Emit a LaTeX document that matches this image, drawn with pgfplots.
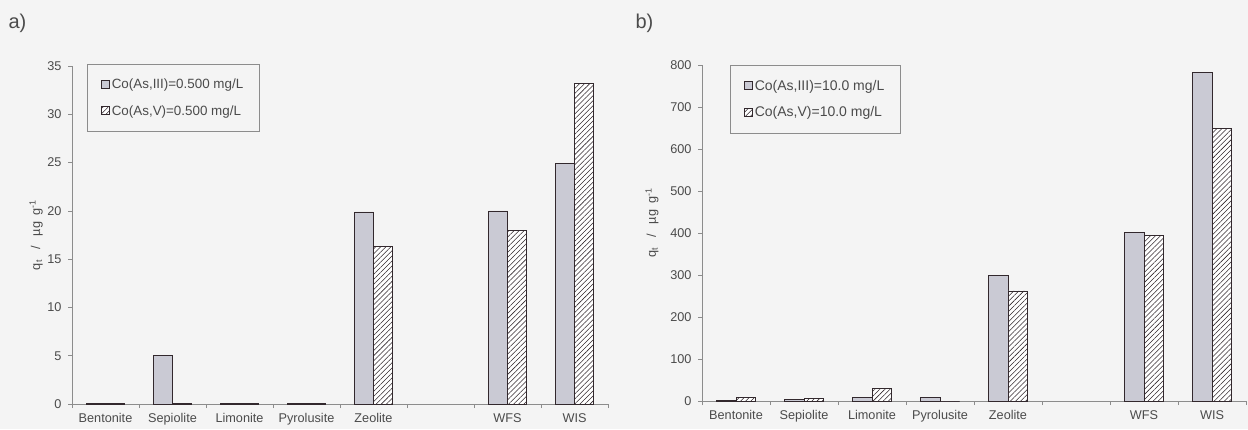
\documentclass[border=0pt]{standalone}
\usepackage{pgfplots}
\pgfplotsset{compat=1.18}
\usetikzlibrary{patterns.meta}
\usepackage{fontspec}
\setmainfont{Liberation Sans}
\definecolor{bg}{RGB}{244,244,244}
\definecolor{barg}{RGB}{202,202,212}
\definecolor{axg}{RGB}{140,140,140}
\definecolor{txt}{RGB}{75,75,75}
\definecolor{bard}{RGB}{50,40,45}

\pgfplotsset{
 mystyle/.style={
  scale only axis,
  ybar=0pt,
  xmin=0.5, xmax=8.5,
  xtick={0.5,1.5,...,8.5},
  x tick label as interval,
  xticklabels={Bentonite,Sepiolite,Limonite,Pyrolusite,Zeolite,{},WFS,WIS},
  axis x line*=bottom, axis y line*=left,
  axis line style={axg, -},
  tick align=outside,
  tick style={axg, line width=0.6pt},
  major tick length=4pt,
  ymin=0,
  ticklabel style={font=\fontsize{12.7}{13}\selectfont, text=txt},
  xticklabel style={yshift=-2pt},
  yticklabel style={xshift=-3pt},
  /pgf/number format/assume math mode=true,
  ylabel={q\textsubscript{t}\hspace{0.8em}/\hspace{0.8em}µg\hspace{0.5em}g\textsuperscript{-1}},
  label style={font=\fontsize{12.7}{13}\selectfont, text=txt},
  legend style={draw=axg, fill=none, text=txt,
    anchor=north west, inner xsep=14pt, inner ysep=13pt, row sep=11pt},
  legend cell align=left,
  legend image code/.code={\draw[##1, bar width=0pt] (0pt,-3.5pt) rectangle (8pt,4.5pt);},
 },
 s3/.style={draw=bard, line width=0.6pt, fill=barg},
 s5/.style={draw=bard, line width=0.6pt, fill=white,
   postaction={pattern={Lines[angle=45,distance=3.6pt,line width=0.55pt]}, pattern color=bard}},
}

\begin{document}
\begin{tikzpicture}
\fill[bg] (0,0) rectangle (1248pt,429pt);
\node[anchor=west, font=\fontsize{20}{22}\selectfont, text=txt] at (5pt,406pt) {a)};
\node[anchor=west, font=\fontsize{20}{22}\selectfont, text=txt] at (632pt,406pt) {b)};

\begin{axis}[mystyle,
  at={(72pt,25pt)}, anchor=south west,
  width=536pt, height=338pt,
  bar width=19pt,
  ymax=35, ytick={0,5,...,35},
  ylabel style={at={(axis description cs:-0.067,0.5)}, anchor=center},
  legend style={at={(axis description cs:0,1)}, xshift=15pt, yshift=2pt,
    font=\fontsize{13.4}{14}\selectfont},
]
\addplot[s3] coordinates {(1,0.1) (2,5.0) (3,0.1) (4,0.1) (5,19.9) (7,20.0) (8,24.9)};
\addplot[s5] coordinates {(1,0.1) (2,0.1) (3,0.1) (4,0.1) (5,16.3) (7,18.0) (8,33.2)};
\legend{{Co(As,III)=0.500 mg/L}, {Co(As,V)=0.500 mg/L}}
\end{axis}

\begin{axis}[mystyle,
  at={(702pt,28pt)}, anchor=south west,
  width=544pt, height=336pt,
  bar width=19.5pt,
  ymax=800, ytick={0,100,...,800},
  ylabel style={at={(axis description cs:-0.092,0.53)}, anchor=center},
  legend style={at={(axis description cs:0,1)}, xshift=28pt, yshift=0pt,
    font=\fontsize{14}{15}\selectfont},
]
\addplot[s3] coordinates {(1,2) (2,3) (3,8) (4,8) (5,300) (7,402) (8,783)};
\addplot[s5] coordinates {(1,8) (2,7) (3,30) (4,0) (5,262) (7,395) (8,650)};
\legend{{Co(As,III)=10.0 mg/L}, {Co(As,V)=10.0 mg/L}}
\end{axis}
\end{tikzpicture}
\end{document}
